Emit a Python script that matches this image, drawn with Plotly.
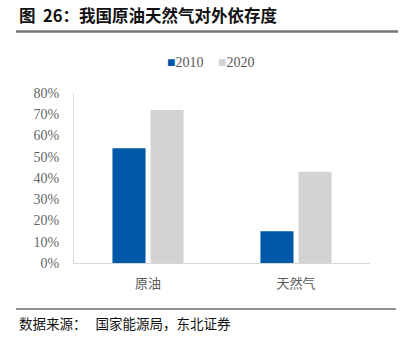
import plotly.graph_objects as go

categories = ["原油", "天然气"]
years = ["2010", "2020"]
values_2010 = [54, 15]
values_2020 = [72, 43]
y_ticks = [0, 10, 20, 30, 40, 50, 60, 70, 80]
y_tick_labels = [f"{v}%" for v in y_ticks]

colors = {"2010": "#0058A9", "2020": "#D3D3D3"}
cjk = "Noto Sans CJK SC"
serif = "Liberation Serif"

# plot area in pixels
L, T, W, H = 74, 93, 296, 170


def px_x(x):
    return (x - L) / W


def px_y(y):
    return 1 - (y - T) / H


fig = go.Figure()
for year, vals in zip(years, [values_2010, values_2020]):
    fig.add_trace(go.Bar(
        name=year, x=categories, y=vals,
        marker=dict(color=colors[year], line=dict(width=0)),
        showlegend=False,
    ))

fig.update_layout(
    width=403, height=343,
    margin=dict(l=L, r=403 - L - W, t=T, b=343 - T - H),
    paper_bgcolor="white", plot_bgcolor="white",
    barmode="group", bargap=0.486, bargroupgap=0.13,
    xaxis=dict(
        showline=True, linecolor="#D9D9D9", linewidth=1,
        ticks="", ticklabelstandoff=8,
        tickfont=dict(family=cjk, size=13, color="#595959"),
        showgrid=False,
    ),
    yaxis=dict(
        range=[0, 80], tickvals=y_ticks, ticktext=y_tick_labels,
        showline=True, linecolor="#D9D9D9", linewidth=1,
        showgrid=False, zeroline=False, ticks="",
        ticklabelstandoff=11,
        tickfont=dict(family=serif, size=14, color="#666666"),
    ),
)

# compact legend: coloured square followed by the year
legend_x = [165, 216]
for year, lx in zip(years, legend_x):
    fig.add_annotation(
        text=f"<span style='color:{colors[year]}'>■</span>{year}",
        xref="paper", yref="paper", x=px_x(lx), y=px_y(62),
        xanchor="left", yanchor="middle", showarrow=False,
        font=dict(family=serif, size=14, color="#595959"),
    )

fig.add_annotation(
    text="<b>图  26：我国原油天然气对外依存度</b>",
    xref="paper", yref="paper", x=px_x(17), y=px_y(15),
    xanchor="left", yanchor="middle", showarrow=False,
    font=dict(family=cjk, size=16.5, color="#111111"),
)
fig.add_annotation(
    text="数据来源：   国家能源局，东北证券",
    xref="paper", yref="paper", x=px_x(17), y=px_y(323),
    xanchor="left", yanchor="middle", showarrow=False,
    font=dict(family=cjk, size=13.5, color="#111111"),
)

# rules under the title and above the source line
fig.add_shape(type="line", xref="paper", yref="paper",
              x0=px_x(16), x1=px_x(398), y0=px_y(31.5), y1=px_y(31.5),
              line=dict(color="#777777", width=2.5))
fig.add_shape(type="line", xref="paper", yref="paper",
              x0=px_x(16), x1=px_x(396), y0=px_y(309), y1=px_y(309),
              line=dict(color="#222222", width=1.2))

fig.write_html("out.html")
